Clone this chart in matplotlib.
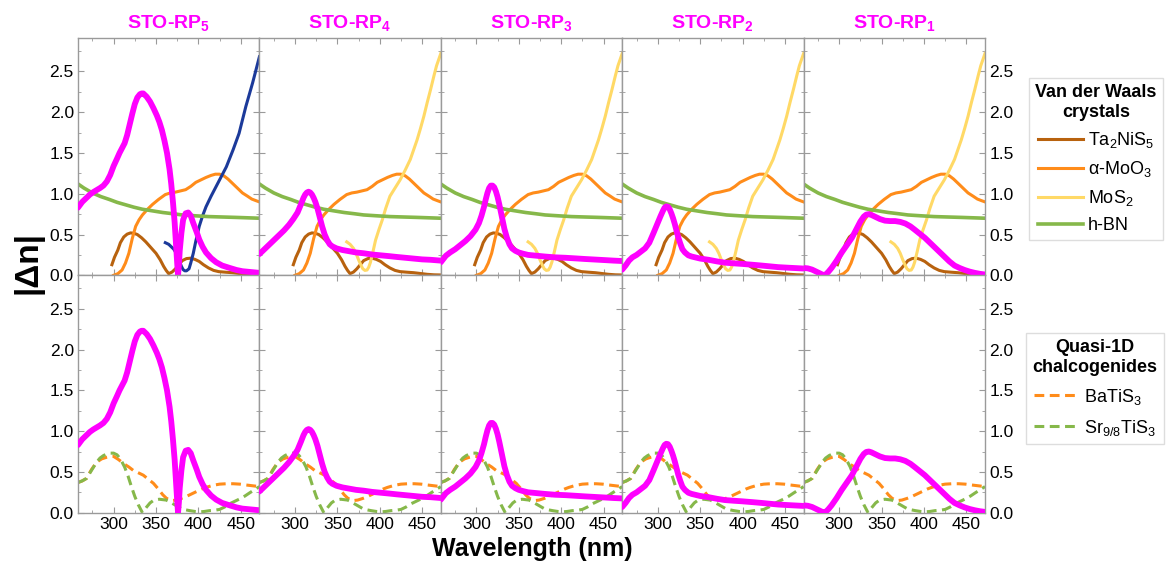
import matplotlib
matplotlib.use("Agg")
import matplotlib.pyplot as plt
import numpy as np

plt.rcParams['font.family'] = ['Liberation Sans', 'DejaVu Sans']
plt.rcParams['mathtext.fontset'] = 'custom'
plt.rcParams['mathtext.rm'] = 'Liberation Sans'
plt.rcParams['mathtext.it'] = 'Liberation Sans:italic'
plt.rcParams['mathtext.bf'] = 'Liberation Sans:bold'
plt.rcParams['mathtext.default'] = 'regular'

# panel titles (STO-RP_n)
titles = ['STO-RP$_\\mathbf{5}$', 'STO-RP$_\\mathbf{4}$', 'STO-RP$_\\mathbf{3}$',
          'STO-RP$_\\mathbf{2}$', 'STO-RP$_\\mathbf{1}$']

# |dn| of STO-RP phases (wavelength nm, value)
rp5_wl = [258, 263, 268, 272, 276, 280, 284, 288, 292, 296, 300, 304, 307, 310, 313,
          316, 319, 322, 325, 328, 331, 333, 335, 337, 339, 343, 347, 351, 354, 357,
          360, 363, 366, 368, 370, 372, 373.5, 375, 376, 377, 378, 380, 382, 385, 388,
          391, 394, 398, 401, 405, 409, 415, 421, 428, 437, 445, 452, 462, 472]
rp5_dn = [0.83, 0.90, 0.95, 0.99, 1.02, 1.045, 1.07, 1.10, 1.15, 1.23, 1.34, 1.43, 1.50,
          1.56, 1.62, 1.72, 1.85, 1.98, 2.10, 2.18, 2.22, 2.23, 2.23, 2.21, 2.19, 2.13,
          2.05, 1.96, 1.88, 1.78, 1.65, 1.50, 1.30, 1.12, 0.90, 0.65, 0.40, 0.15, 0.0,
          0.12, 0.30, 0.52, 0.68, 0.76, 0.77, 0.73, 0.64, 0.53, 0.44, 0.35, 0.28, 0.21,
          0.16, 0.12, 0.09, 0.065, 0.05, 0.04, 0.03]
rp4_wl = [258, 264, 270, 276, 281, 287, 293, 298, 303, 307, 310, 312, 314, 316, 318,
          320, 322, 324, 326.5, 329, 332, 335, 338, 341, 344, 349, 356, 364, 372, 381,
          391, 401, 411, 420, 430, 440, 450, 460, 472]
rp4_dn = [0.26, 0.32, 0.38, 0.44, 0.49, 0.55, 0.62, 0.69, 0.77, 0.87, 0.95, 0.99, 1.015,
          1.025, 1.015, 0.99, 0.95, 0.90, 0.82, 0.72, 0.60, 0.50, 0.43, 0.38, 0.355,
          0.33, 0.31, 0.295, 0.28, 0.27, 0.255, 0.245, 0.235, 0.225, 0.215, 0.205, 0.195,
          0.19, 0.18]
rp3_wl = [258, 261, 264, 269, 275, 281, 287, 293, 299, 303, 306, 309, 311, 313, 315,
          317, 319, 321, 323, 325, 327, 330, 333, 336, 339, 342, 346, 350, 355, 361,
          371, 381, 393, 405, 416, 428, 440, 452, 462, 472]
rp3_dn = [0.16, 0.20, 0.24, 0.28, 0.32, 0.37, 0.42, 0.48, 0.56, 0.64, 0.73, 0.84, 0.93,
          1.01, 1.07, 1.10, 1.10, 1.08, 1.03, 0.96, 0.87, 0.72, 0.57, 0.46, 0.38, 0.33,
          0.30, 0.28, 0.265, 0.25, 0.24, 0.23, 0.22, 0.215, 0.208, 0.20, 0.193, 0.186,
          0.18, 0.175]
rp2_wl = [258, 262, 266, 270, 275, 280, 285, 290, 295, 299, 303, 306, 308, 310, 312,
          314, 316, 318, 320, 322, 324, 326.5, 329, 332, 336, 340, 344, 350, 360, 370,
          379, 389, 399, 411, 422, 432, 442, 454, 465, 472]
rp2_dn = [0.07, 0.12, 0.18, 0.22, 0.25, 0.29, 0.33, 0.40, 0.52, 0.62, 0.72, 0.79, 0.83,
          0.845, 0.84, 0.81, 0.76, 0.70, 0.63, 0.55, 0.47, 0.39, 0.32, 0.28, 0.245, 0.23,
          0.22, 0.205, 0.19, 0.17, 0.155, 0.147, 0.14, 0.13, 0.12, 0.11, 0.10, 0.093,
          0.087, 0.083]
rp1_wl = [258, 263, 268, 272, 276, 280, 283, 287, 291, 297, 303, 309, 315, 320, 325,
          329, 332, 335, 338, 342, 348, 354, 360, 366, 372, 378, 384, 389, 395, 401,
          407, 413, 419, 425, 430, 436, 442, 448, 454, 460, 466, 472]
rp1_dn = [0.09, 0.085, 0.07, 0.05, 0.03, 0.01, 0.0, 0.04, 0.09, 0.18, 0.28, 0.37, 0.46,
          0.56, 0.66, 0.72, 0.745, 0.75, 0.74, 0.72, 0.69, 0.67, 0.665, 0.665, 0.655,
          0.635, 0.60, 0.56, 0.51, 0.46, 0.40, 0.34, 0.28, 0.22, 0.17, 0.12, 0.09, 0.065,
          0.045, 0.03, 0.018, 0.01]
rp_wl = [rp5_wl, rp4_wl, rp3_wl, rp2_wl, rp1_wl]
rp_dn = [rp5_dn, rp4_dn, rp3_dn, rp2_dn, rp1_dn]

# van der Waals crystals
ta_wl = [298, 301, 305, 308, 312, 316, 320, 324, 328, 333, 338, 344, 350, 355, 359,
         362, 365, 369, 373, 377, 381, 386, 391, 396, 401, 406, 412, 418, 424, 432,
         440, 448, 456, 464, 472]
ta_dn = [0.13, 0.22, 0.31, 0.40, 0.47, 0.505, 0.52, 0.515, 0.50, 0.46, 0.41, 0.34, 0.27,
         0.19, 0.11, 0.06, 0.02, 0.04, 0.08, 0.13, 0.18, 0.205, 0.21, 0.195, 0.17, 0.13,
         0.09, 0.06, 0.045, 0.038, 0.032, 0.022, 0.012, 0.006, 0.004]
moo3_wl = [300, 305, 310, 314, 318, 322, 326, 330, 334, 340, 346, 353, 361, 367, 373,
           379, 385, 391, 397, 403, 409, 415, 420, 425, 430, 435, 440, 446, 452, 458,
           463, 468, 472]
moo3_dn = [0.0, 0.02, 0.065, 0.15, 0.27, 0.45, 0.60, 0.68, 0.74, 0.81, 0.87, 0.93, 0.99,
           1.01, 1.02, 1.035, 1.05, 1.09, 1.14, 1.17, 1.20, 1.225, 1.24, 1.24, 1.22, 1.18,
           1.13, 1.07, 1.01, 0.97, 0.935, 0.915, 0.90]
mos2_wl = [361, 365, 369, 372, 375, 378, 380, 382.5, 385, 387, 389, 392, 395, 399, 403,
           407, 412, 418, 424, 430, 436, 440, 444, 448, 452, 456, 460, 464, 467, 472]
mos2_dn = [0.41, 0.38, 0.33, 0.27, 0.19, 0.12, 0.08, 0.06, 0.065, 0.10, 0.16, 0.29, 0.43,
           0.56, 0.68, 0.82, 0.97, 1.07, 1.17, 1.29, 1.42, 1.54, 1.66, 1.80, 1.95, 2.12,
           2.28, 2.45, 2.57, 2.72]
mos2b_wl = [361, 365, 368, 371, 374, 377, 380, 382, 384, 386, 389, 391, 394, 397, 401,
            405, 409, 415, 421, 427, 433, 441, 448, 456, 464, 472]
mos2b_dn = [0.40, 0.38, 0.35, 0.32, 0.27, 0.19, 0.11, 0.07, 0.055, 0.055, 0.08, 0.15,
            0.27, 0.42, 0.60, 0.73, 0.84, 0.97, 1.09, 1.21, 1.33, 1.54, 1.74, 2.07, 2.36,
            2.68]
hbn_wl = [258, 265, 275, 285, 295, 304, 314, 324, 334, 346, 358, 370, 381, 396, 412,
          428, 444, 458, 472]
hbn_dn = [1.12, 1.07, 1.01, 0.965, 0.93, 0.895, 0.865, 0.835, 0.81, 0.79, 0.77, 0.755,
          0.74, 0.73, 0.72, 0.715, 0.71, 0.705, 0.70]

# quasi-1D chalcogenides
bts_wl = [258, 263, 268, 274, 280, 286, 292, 296, 300, 306, 312, 318, 323, 329, 335,
          341, 347, 352, 358, 362, 366, 370, 374, 380, 386, 392, 398, 404, 409, 417,
          425, 433, 441, 449, 456, 464, 472]
bts_dn = [0.37, 0.39, 0.42, 0.53, 0.62, 0.66, 0.68, 0.69, 0.69, 0.65, 0.60, 0.56, 0.52,
          0.49, 0.46, 0.41, 0.36, 0.30, 0.22, 0.18, 0.155, 0.15, 0.155, 0.175, 0.20,
          0.23, 0.26, 0.29, 0.31, 0.335, 0.35, 0.355, 0.355, 0.35, 0.34, 0.33, 0.32]
sts_wl = [258, 263, 268, 274, 280, 284, 288, 292, 296, 300, 304, 308, 313, 317, 321,
          325, 329, 332, 334, 336, 339, 343, 347, 351, 354, 358, 362, 366, 370, 375,
          380, 385, 390, 396, 401, 407, 413, 419, 425, 431, 437, 443, 449, 455, 460,
          466, 472]
sts_dn = [0.37, 0.39, 0.42, 0.52, 0.62, 0.67, 0.70, 0.72, 0.73, 0.73, 0.71, 0.66, 0.56,
          0.45, 0.32, 0.20, 0.10, 0.04, 0.0, 0.03, 0.07, 0.12, 0.15, 0.16, 0.165, 0.16,
          0.155, 0.135, 0.11, 0.08, 0.05, 0.035, 0.025, 0.015, 0.01, 0.015, 0.025, 0.03,
          0.04, 0.07, 0.11, 0.14, 0.17, 0.205, 0.24, 0.28, 0.32]

MAG = '#ff00ff'
BROWN = '#b8620e'
ORANGE = '#ff8c1a'
YELLOW = '#ffd966'
GREEN = '#86b84a'
BLUE = '#1c3a9a'
FRAME = '#9a9a9a'

fig = plt.figure(figsize=(11.69, 5.64), dpi=100)
W, H = 1169, 564
x0, pw = 78, 181.4
rows = [(38, 275.3), (275.3, 512.7)]

for r, (ytop, ybot) in enumerate(rows):
    for c in range(5):
        ax = fig.add_axes([(x0 + c * pw) / W, 1 - ybot / H, pw / W, (ybot - ytop) / H])
        kw = dict(lw=2.2, solid_joinstyle='round')
        if r == 0:
            ax.plot(ta_wl, ta_dn, color=BROWN, label='Ta$_2$NiS$_5$', **kw)
            ax.plot(moo3_wl, moo3_dn, color=ORANGE, label='α-MoO$_3$', **kw)
            if c == 0:
                ax.plot(mos2b_wl, mos2b_dn, color=BLUE, **kw)
            else:
                ax.plot(mos2_wl, mos2_dn, color=YELLOW, label='MoS$_2$', **kw)
            ax.plot(hbn_wl, hbn_dn, color=GREEN, lw=2.6, label='h-BN')
            ax.set_title(titles[c], color=MAG, fontsize=14, fontweight='bold', pad=7)
        else:
            ax.plot(bts_wl, bts_dn, color=ORANGE, lw=2.2, ls=(0, (3.2, 1.8)),
                    label='BaTiS$_3$')
            ax.plot(sts_wl, sts_dn, color=GREEN, lw=2.2, ls=(0, (3.2, 1.8)),
                    label='Sr$_{9/8}$TiS$_3$')
        ax.plot(rp_wl[c], rp_dn[c], color=MAG, lw=4.2, zorder=5,
                solid_capstyle='round', solid_joinstyle='round')
        ax.set_xlim(258, 472)
        ax.set_ylim(0, 2.91)
        ax.set_xticks([300, 350, 400, 450])
        ax.set_xticks(np.arange(275, 472, 25), minor=True)
        ax.set_yticks([0, 0.5, 1.0, 1.5, 2.0, 2.5])
        ax.set_yticks(np.arange(0.25, 2.9, 0.5), minor=True)
        ax.tick_params(which='both', direction='in', top=True, bottom=True, left=True,
                       right=True, color=FRAME, labelsize=12.5, pad=3)
        ax.tick_params(which='major', length=4)
        ax.tick_params(which='minor', length=2.5)
        for s in ax.spines.values():
            s.set_color(FRAME)
            s.set_linewidth(1.0)
        ax.tick_params(labelleft=(c == 0), labelright=(c == 4), labelbottom=(r == 1))
        if r == 0 and c == 4:
            leg1_h, leg1_l = ax.get_legend_handles_labels()
        if r == 1 and c == 4:
            leg2_h, leg2_l = ax.get_legend_handles_labels()

fig.text(28 / W, 1 - 262 / H, '|Δn|', rotation=90, fontsize=24, fontweight='bold',
         ha='center', va='center')
fig.text(532 / W, 1 - 549 / H, 'Wavelength (nm)', fontsize=18, fontweight='bold',
         ha='center', va='center')

for handles, labels, title, (lx, ly), sp in [
        (leg1_h, leg1_l, 'Van der Waals\ncrystals', (1029, 78), 0.5),
        (leg2_h, leg2_l, 'Quasi-1D\nchalcogenides', (1026, 333), 0.6)]:
    leg = fig.legend(handles, labels, title=title, loc='upper left',
                     bbox_to_anchor=(lx / W, 1 - ly / H), fontsize=13,
                     title_fontproperties={'weight': 'bold', 'size': 13},
                     frameon=True, fancybox=False, framealpha=1, edgecolor='#dddddd',
                     handlelength=2.5, handletextpad=0.25, borderpad=0.35,
                     labelspacing=sp, borderaxespad=0)
    leg.get_title().set_multialignment('center')
    leg.get_frame().set_linewidth(1.0)

fig.savefig('out.png', dpi=100)
